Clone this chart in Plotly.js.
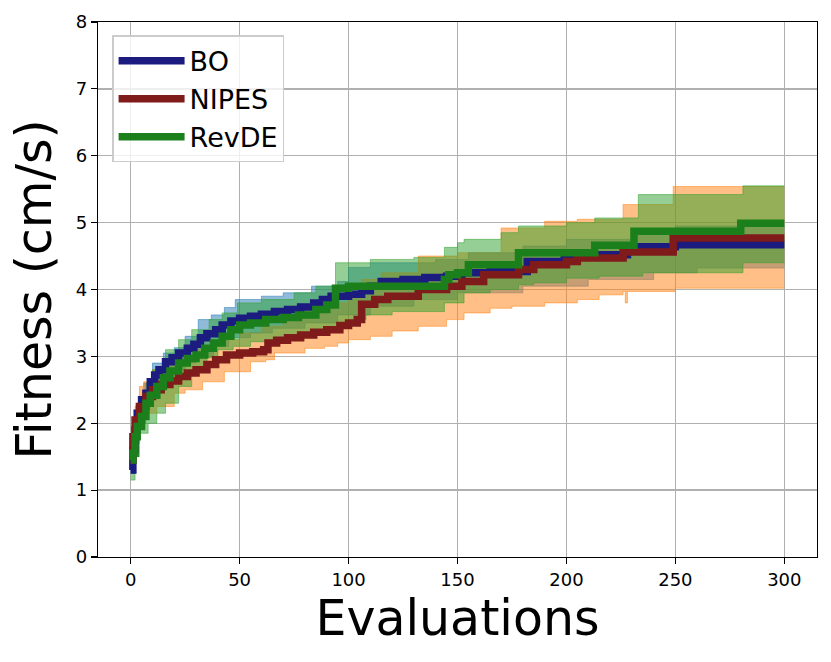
<!DOCTYPE html>
<html>
<head>
<meta charset="utf-8">
<script src="https://cdn.plot.ly/plotly-3.0.1.min.js"></script>
<style>html,body{margin:0;padding:0;background:#fff;}#chart{width:831px;height:662px;}</style>
</head>
<body>
<div id="chart"></div>
<script>
// ---- data ----
const seriesNames = ["BO", "NIPES", "RevDE"];

// BO mean
const boX    = [0,1,2,3,5,7,9,11,13,16,19,22,26,29,32,35,39,42,46,50,55,60,66,72,78,84,88,92,100,106,110,115,125,135,145,152,165,182,199,228,250,300];
const boMean = [1.30,1.60,1.90,2.15,2.35,2.45,2.62,2.72,2.80,2.92,2.98,3.05,3.12,3.18,3.28,3.34,3.40,3.47,3.53,3.57,3.60,3.63,3.67,3.70,3.74,3.80,3.85,3.90,3.93,3.98,4.05,4.12,4.15,4.18,4.20,4.25,4.27,4.42,4.52,4.64,4.67,4.67];
// BO band
const boLoX  = [0,2,4,7,10,15,20,25,30,38,45,55,65,80,95,110,130,150,180,210,240,260,300];
const boLo   = [1.25,1.70,2.00,2.25,2.45,2.65,2.80,2.90,3.00,3.15,3.28,3.35,3.42,3.50,3.62,3.75,3.85,3.95,4.05,4.15,4.25,4.32,4.32];
const boHiX  = [0,2,4,6,10,15,20,25,31,37,43,48,60,70,83,95,100,110,140,155,180,200,230,250,300];
const boHi   = [1.35,2.05,2.40,2.60,2.90,3.05,3.13,3.30,3.55,3.62,3.73,3.85,3.90,3.95,4.05,4.12,4.33,4.40,4.45,4.55,4.65,4.75,4.90,4.95,4.95];

// NIPES mean
const niX    = [0,1,2,4,7,10,14,18,22,26,30,35,39,44,50,56,61,63,67,72,78,84,90,96,100,104,106,112,118,132,145,152,162,178,185,200,205,226,249,300];
const niMean = [1.45,1.80,2.05,2.25,2.40,2.50,2.58,2.63,2.70,2.75,2.80,2.88,2.95,3.02,3.05,3.07,3.10,3.20,3.24,3.28,3.32,3.36,3.40,3.46,3.50,3.55,3.78,3.85,3.90,4.00,4.05,4.12,4.22,4.30,4.37,4.42,4.47,4.56,4.77,4.77];
// NIPES band
const niLoX  = [0,2,4,6,12,20,25,33,43,55,62,66,80,89,95,100,110,120,132,145,153,165,175,190,205,215,226,227,228,250,300];
const niLo   = [1.40,1.75,2.00,2.15,2.25,2.45,2.50,2.62,2.77,2.92,2.95,3.05,3.12,3.15,3.20,3.25,3.30,3.38,3.45,3.55,3.65,3.72,3.75,3.80,3.85,3.92,3.97,3.80,3.97,4.02,4.02];
const niHiX  = [0,2,4,6,10,15,20,30,40,50,60,70,80,90,100,106,115,132,150,170,190,205,226,249,300];
const niHi   = [1.50,2.25,2.55,2.62,2.80,2.95,3.00,3.10,3.25,3.35,3.45,3.60,3.70,3.80,3.95,4.15,4.25,4.50,4.55,4.92,5.02,5.05,5.27,5.54,5.54];

// RevDE mean
const reX    = [0,1,2,3,5,7,9,12,15,18,22,26,30,34,38,42,46,50,55,62,70,77,85,90,94,100,144,146,150,155,178,213,231,280,300];
const reMean = [1.45,1.55,1.80,1.95,2.10,2.30,2.42,2.55,2.68,2.78,2.90,2.97,3.02,3.12,3.20,3.30,3.40,3.47,3.50,3.55,3.58,3.62,3.70,3.77,4.02,4.05,4.15,4.22,4.25,4.37,4.55,4.66,4.87,4.99,4.99];
// RevDE band
const reLoX  = [0,2,4,8,12,16,22,28,35,40,47,55,62,75,85,95,100,108,120,144,153,165,178,185,200,215,235,281,300];
const reLo   = [1.15,1.50,1.85,2.00,2.15,2.30,2.55,2.80,2.98,3.10,3.15,3.22,3.25,3.32,3.40,3.50,3.55,3.62,3.67,3.80,3.95,4.00,4.07,4.10,4.17,4.20,4.25,4.40,4.40];
const reHiX  = [0,2,4,7,10,16,22,28,36,42,49,60,75,85,94,110,130,144,150,153,170,178,200,213,233,281,300];
const reHi   = [1.50,2.05,2.35,2.60,2.80,3.10,3.25,3.40,3.55,3.65,3.80,3.85,3.95,4.05,4.40,4.45,4.48,4.63,4.70,4.75,4.85,4.95,5.00,5.07,5.42,5.55,5.55];

const xTicks = [0,50,100,150,200,250,300];
const yTicks = [0,1,2,3,4,5,6,7,8];

// ---- styling ----
const lineColors = ["#1b1b80", "#801b1b", "#1b801b"];
const bandColors = ["rgba(31,119,180,0.5)", "rgba(255,127,14,0.5)", "rgba(44,160,44,0.5)"];
const FONT = "DejaVu Sans, sans-serif";

function band(xl, lo, xh, hi, c) {
  return [
    {x: xl, y: lo, mode: "lines", line: {shape: "hv", color: c, width: 1}, showlegend: false, hoverinfo: "skip"},
    {x: xh, y: hi, mode: "lines", line: {shape: "hv", color: c, width: 1}, fill: "tonexty", fillcolor: c, showlegend: false, hoverinfo: "skip"}
  ];
}
function meanLine(x, y, name, c) {
  return {x: x, y: y, name: name, legendgroup: name, mode: "lines", line: {shape: "hv", color: c, width: 7.5}};
}

const data = [
  ...band(boLoX, boLo, boHiX, boHi, bandColors[0]),
  ...band(niLoX, niLo, niHiX, niHi, bandColors[1]),
  ...band(reLoX, reLo, reHiX, reHi, bandColors[2]),
  meanLine(boX, boMean, seriesNames[0], lineColors[0]),
  meanLine(niX, niMean, seriesNames[1], lineColors[1]),
  meanLine(reX, reMean, seriesNames[2], lineColors[2])
];

const axisCommon = {
  showline: true, linecolor: "#000", linewidth: 1.3, mirror: true,
  ticks: "outside", ticklen: 6, tickwidth: 1.2, tickcolor: "#000",
  showgrid: true, gridcolor: "#b0b0b0", gridwidth: 1.3,
  zeroline: false, tickfont: {family: FONT, size: 18, color: "#000"},
  automargin: false
};

const layout = {
  width: 831, height: 662,
  margin: {l: 98, r: 14, t: 22, b: 105},
  paper_bgcolor: "#fff", plot_bgcolor: "#fff",
  font: {family: FONT, color: "#000"},
  xaxis: Object.assign({}, axisCommon, {
    range: [-15, 315], tickvals: xTicks, ticktext: xTicks.map(String),
    title: {text: "Evaluations", font: {family: FONT, size: 49, color: "#000"}, standoff: 8}
  }),
  yaxis: Object.assign({}, axisCommon, {
    range: [0, 8], tickvals: yTicks, ticktext: yTicks.map(String),
    title: {text: "Fitness (cm/s)", font: {family: FONT, size: 49, color: "#000"}, standoff: 8}
  }),
  legend: {
    x: 0.02, y: 0.975, xanchor: "left", yanchor: "top",
    traceorder: "normal", tracegroupgap: 7,
    bgcolor: "rgba(255,255,255,0.8)", bordercolor: "#cccccc", borderwidth: 1.2,
    font: {family: FONT, size: 27, color: "#000"}, itemwidth: 66
  },
  showlegend: true
};

Plotly.newPlot("chart", data, layout, {staticPlot: true, displayModeBar: false});
</script>
</body>
</html>
